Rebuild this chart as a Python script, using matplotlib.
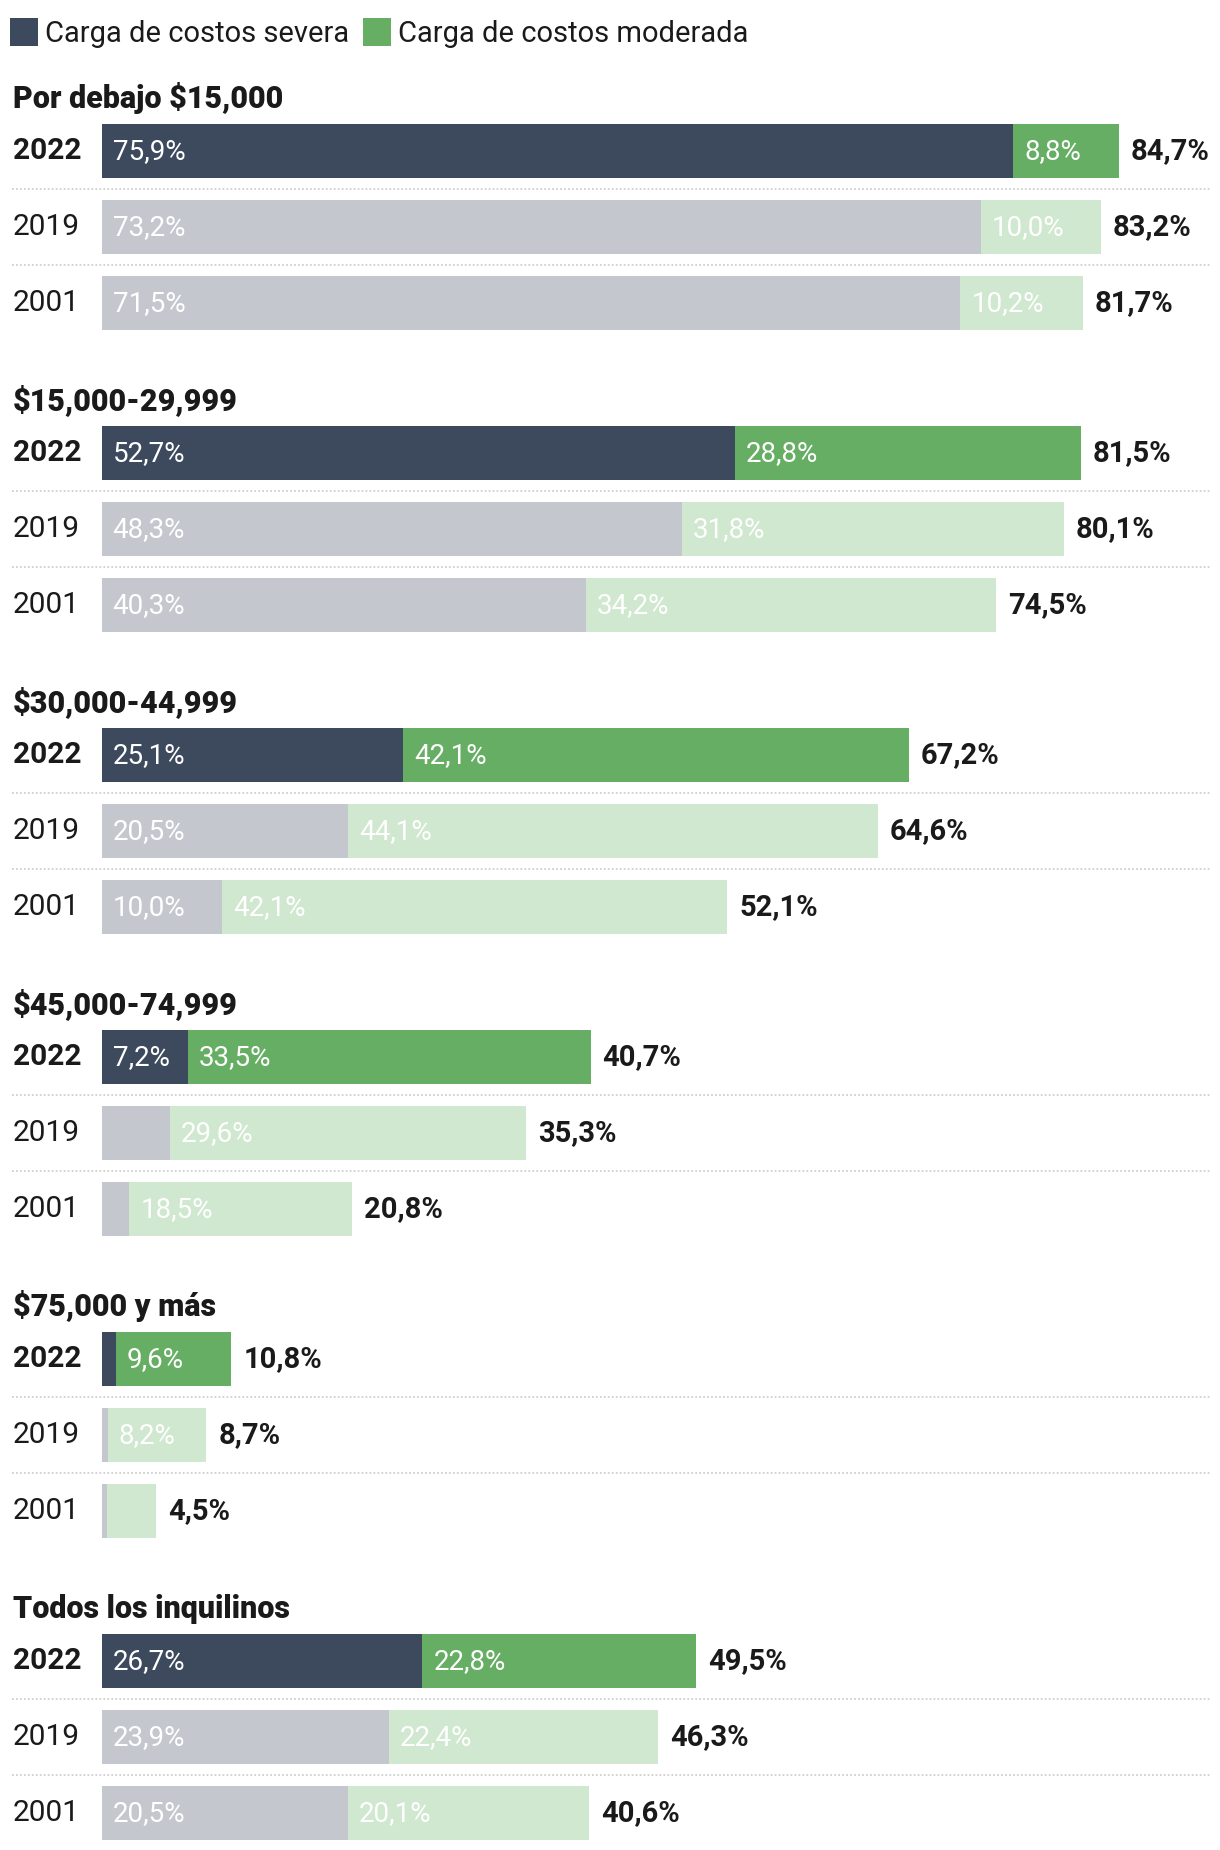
import matplotlib
matplotlib.use("Agg")
import matplotlib.pyplot as plt
from matplotlib.patches import Rectangle
from matplotlib import font_manager

# ---------------- data ----------------
categories = ["Por debajo $15,000", "$15,000-29,999", "$30,000-44,999",
              "$45,000-74,999", "$75,000 y más", "Todos los inquilinos"]
years = ["2022", "2019", "2001"]
severe = [[75.9, 73.2, 71.5],
          [52.7, 48.3, 40.3],
          [25.1, 20.5, 10.0],
          [7.2, 5.7, 2.3],
          [1.2, 0.5, 0.4],
          [26.7, 23.9, 20.5]]
moderate = [[8.8, 10.0, 10.2],
            [28.8, 31.8, 34.2],
            [42.1, 44.1, 42.1],
            [33.5, 29.6, 18.5],
            [9.6, 8.2, 4.1],
            [22.8, 22.4, 20.1]]
totals = [[84.7, 83.2, 81.7],
          [81.5, 80.1, 74.5],
          [67.2, 64.6, 52.1],
          [40.7, 35.3, 20.8],
          [10.8, 8.7, 4.5],
          [49.5, 46.3, 40.6]]
legend_labels = ["Carga de costos severa", "Carga de costos moderada"]

# ---------------- style ----------------
names = {f.name for f in font_manager.fontManager.ttflist}
FONT = "Roboto" if "Roboto" in names else "DejaVu Sans"
plt.rcParams["font.family"] = [FONT, "DejaVu Sans"]

C_SEV = "#3d4a5e"
C_MOD = "#66ae63"
C_SEV_OLD = "#c4c7ce"
C_MOD_OLD = "#d0e7d0"
C_TEXT = "#1a1a1a"
C_SEP = "#cfcfcf"

W, H = 1220, 1850
X0, XS = 101.7, 12.01          # bar origin (px) and px per percent
SEC = 302                       # section pitch (px)
ROW = 76                        # row pitch (px)
BAR_H = 54


def px2v(px):
    return (px - X0) / XS


def fmt(v):
    return f"{v:.1f}".replace(".", ",") + "%"


fig = plt.figure(figsize=(W / 100, H / 100), dpi=100)
ax = fig.add_axes([0, 0, 1, 1])
ax.set_xlim(px2v(0), px2v(W))
ax.set_ylim(H, 0)
ax.axis("off")

# legend
leg_x = [10, 363]
for i, (lab, col) in enumerate(zip(legend_labels, [C_SEV, C_MOD])):
    ax.add_patch(Rectangle((px2v(leg_x[i]), 18), 28 / XS, 28, color=col, lw=0))
    ax.text(px2v(leg_x[i] + 35), 42, lab, fontsize=21, color=C_TEXT,
            va="baseline", ha="left")

for s, cat in enumerate(categories):
    top = s * SEC
    ax.text(px2v(13), 108 + top, cat, fontsize=22, fontweight="heavy",
            color=C_TEXT, va="baseline", ha="left")
    centers = [151 + top + j * ROW for j in range(3)]
    for j, yr in enumerate(years):
        yc = centers[j]
        latest = (j == 0)
        c1 = C_SEV if latest else C_SEV_OLD
        c2 = C_MOD if latest else C_MOD_OLD
        sv, mv = severe[s][j], moderate[s][j]
        ax.barh(yc, sv, height=BAR_H, left=0, color=c1, lw=0)
        ax.barh(yc, mv, height=BAR_H, left=sv, color=c2, lw=0)
        base = yc + 8
        ax.text(px2v(13), base, yr, fontsize=21.5,
                fontweight="bold" if latest else "normal",
                color=C_TEXT, va="baseline", ha="left")
        if sv >= 6:
            ax.text(11 / XS, base, fmt(sv), fontsize=20, fontweight="normal",
                    color="white", va="baseline", ha="left")
        if mv >= 6:
            ax.text(sv + 11 / XS, base, fmt(mv), fontsize=20, fontweight="normal",
                    color="white", va="baseline", ha="left")
        ax.text(totals[s][j] + 12 / XS, base, fmt(totals[s][j]), fontsize=21,
                fontweight="bold", color=C_TEXT, va="baseline", ha="left")
        if j < 2:
            ys = yc + ROW / 2
            ax.plot([px2v(12), px2v(1210)], [ys, ys], color=C_SEP, lw=1.3,
                    linestyle=(0, (1, 1.2)), solid_capstyle="butt")

fig.savefig("out.png", dpi=100)
